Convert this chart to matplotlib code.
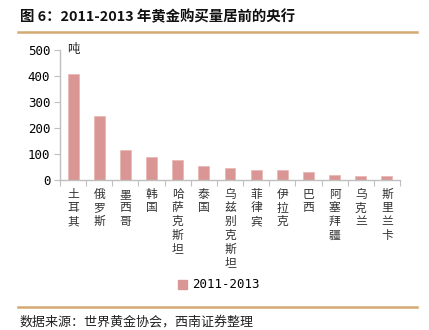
import matplotlib
matplotlib.use("Agg")
import matplotlib.pyplot as plt
from matplotlib.lines import Line2D
import numpy as np

plt.rcParams['font.family'] = ['Noto Sans CJK SC', 'DejaVu Sans']

categories = ["土耳其", "俄罗斯", "墨西哥", "韩国", "哈萨克斯坦", "泰国", "乌兹别克斯坦",
              "菲律宾", "伊拉克", "巴西", "阿塞拜疆", "乌克兰", "斯里兰卡"]
values = [407, 247, 117, 89, 76, 52, 48, 38, 37, 32, 19, 15, 15]
series_name = "2011-2013"
yticks = [0, 100, 200, 300, 400, 500]
title = "图 6：2011-2013 年黄金购买量居前的央行"
source = "数据来源：世界黄金协会，西南证券整理"
unit = "吨"

W, H = 429, 330
fig = plt.figure(figsize=(W / 100, H / 100), dpi=100)

ax = fig.add_axes([60 / W, 1 - 180 / H, 340 / W, 130 / H])
x = np.arange(len(categories))
ax.bar(x, values, width=0.42, color="#d99694", edgecolor="#e8b4b2", linewidth=0.5,
       label=series_name, zorder=2)
ax.set_xlim(-0.5, len(categories) - 0.5)
ax.set_ylim(0, 500)
ax.set_yticks(yticks)
ax.set_yticklabels([str(v) for v in yticks], family="DejaVu Sans Mono", fontsize=9)
for s in ["top", "right"]:
    ax.spines[s].set_visible(False)
for s in ["left", "bottom"]:
    ax.spines[s].set_color("#bfbfbf")
    ax.spines[s].set_linewidth(1.0)
ax.tick_params(axis="y", length=4, color="#bfbfbf", pad=3, labelcolor="#000000")

# category ticks at boundaries
ax.set_xticks(np.arange(len(categories) + 1) - 0.5, minor=False)
ax.set_xticklabels([])
ax.tick_params(axis="x", length=4, color="#bfbfbf", direction="out")
for i, c in enumerate(categories):
    ax.text(i, -30, "\n".join(c), ha="center", va="top", fontsize=8.5,
            color="#333333", linespacing=1.07,
            family=['Noto Sans CJK SC', 'DejaVu Sans'])

ax.text(0.022, 1.0, unit, transform=ax.transAxes, ha="left", va="center",
        fontsize=9, color="#222222")

# legend
fig.legend(handles=[plt.Rectangle((0, 0), 1, 1, color="#d99694")],
           labels=[series_name], loc="center", bbox_to_anchor=(219 / W, 1 - 285 / H),
           frameon=False, handlelength=0.7, handleheight=0.7, handletextpad=0.4,
           prop={"family": "DejaVu Sans Mono", "size": 9})

# title and decorative lines
fig.text(20 / W, 1 - 17 / H, title, ha="left", va="center", fontsize=10.4,
         fontweight="bold", color="#111111")
fig.add_artist(Line2D([18 / W, 417 / W], [1 - 32 / H, 1 - 32 / H],
                      color="#d4aa72", linewidth=1.8, transform=fig.transFigure))
fig.add_artist(Line2D([18 / W, 417 / W], [1 - 307 / H, 1 - 307 / H],
                      color="#d4aa72", linewidth=1.8, transform=fig.transFigure))
fig.text(20 / W, 1 - 322 / H, source, ha="left", va="center", fontsize=9.4,
         style="italic", color="#222222")

fig.savefig("out.png", dpi=100)
